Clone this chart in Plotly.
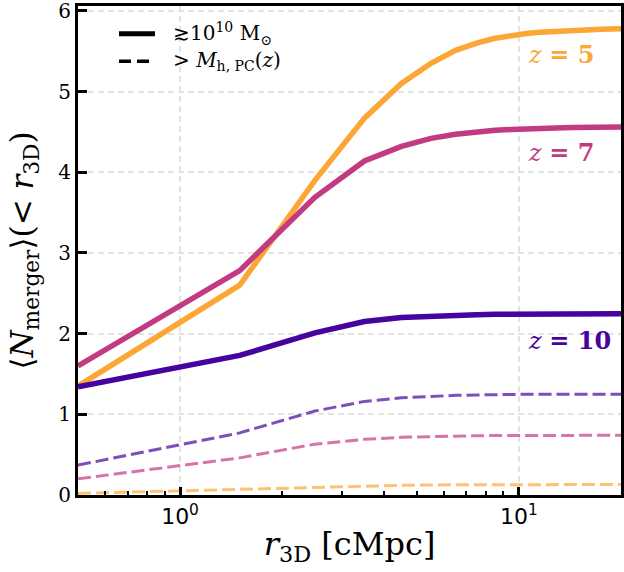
import numpy as np
import plotly.graph_objects as go

r_bins = [0.5, 1.5, 2.5, 3.5, 4.5, 5.5, 6.5, 7.5, 8.5, 9.5, 10.5, 11.5, 12.5,
          13.5, 14.5, 15.5, 16.5, 17.5, 18.5, 19.5, 20.5]

z5_massive = [1.35, 2.60, 3.90, 4.67, 5.10, 5.35, 5.51, 5.60, 5.66, 5.70, 5.72,
              5.735, 5.745, 5.755, 5.76, 5.765, 5.77, 5.772, 5.775, 5.777, 5.78]
z7_massive = [1.60, 2.78, 3.69, 4.14, 4.32, 4.42, 4.47, 4.50, 4.52, 4.53, 4.54,
              4.545, 4.55, 4.55, 4.553, 4.555, 4.556, 4.557, 4.558, 4.559, 4.56]
z10_massive = [1.34, 1.73, 2.01, 2.15, 2.20, 2.22, 2.23, 2.235, 2.24, 2.24, 2.24,
               2.242, 2.243, 2.244, 2.245, 2.245, 2.245, 2.245, 2.245, 2.245, 2.245]

z5_pc = [0.02, 0.07, 0.10, 0.115, 0.12, 0.125, 0.127, 0.128, 0.129, 0.13, 0.13,
         0.13, 0.13, 0.13, 0.13, 0.13, 0.13, 0.13, 0.13, 0.13, 0.13]
z7_pc = [0.20, 0.46, 0.63, 0.69, 0.715, 0.725, 0.73, 0.735, 0.737, 0.738, 0.739,
         0.74, 0.74, 0.74, 0.74, 0.74, 0.74, 0.74, 0.74, 0.74, 0.74]
z10_pc = [0.37, 0.77, 1.04, 1.16, 1.205, 1.225, 1.235, 1.24, 1.245, 1.247, 1.248,
          1.25, 1.25, 1.25, 1.25, 1.25, 1.25, 1.25, 1.25, 1.25, 1.25]

redshifts = ["5", "7", "10"]
colors = ["#FCA636", "#C23B82", "#46039F"]
dash_colors = ["rgba(252,166,54,0.7)", "rgba(194,59,130,0.7)", "rgba(70,3,159,0.7)"]
label_y = [5.46, 4.25, 1.92]

legend_labels = ["≳10<sup>10</sup> M<sub>⊙</sub>",
                 "&gt; <i>M</i><sub>h, PC</sub>(<i>z</i>)"]

x_major = [1, 10]
x_major_text = ["10<sup>0</sup>", "10<sup>1</sup>"]
x_minor = [0.5, 0.6, 0.7, 0.8, 0.9, 2, 3, 4, 5, 6, 7, 8, 9, 20]
y_ticks = [0, 1, 2, 3, 4, 5, 6]

FONT = "DejaVu Serif"

fig = go.Figure()

massive = [z5_massive, z7_massive, z10_massive]
pc = [z5_pc, z7_pc, z10_pc]

for i in range(3):
    fig.add_trace(go.Scatter(x=r_bins, y=pc[i], mode="lines",
                             line=dict(color=dash_colors[i], width=3, dash="13px,5px"),
                             showlegend=False, hoverinfo="skip"))
for i in range(3):
    fig.add_trace(go.Scatter(x=r_bins, y=massive[i], mode="lines",
                             line=dict(color=colors[i], width=5.5),
                             showlegend=False, hoverinfo="skip"))

# legend keys (drawn manually, frameless, like the reference)
legend_y = [0.943, 0.887]
legend_style = [dict(color="black", width=5), dict(color="black", width=3.5, dash="12px,6px")]
for k in range(2):
    fig.add_shape(type="line", xref="paper", yref="paper",
                  x0=0.0755, x1=0.1418, y0=legend_y[k], y1=legend_y[k],
                  line=legend_style[k])
    fig.add_annotation(x=0.172, y=legend_y[k], xref="paper", yref="paper",
                       text=legend_labels[k], showarrow=False,
                       xanchor="left", yanchor="middle",
                       font=dict(family=FONT, size=20, color="black"))

for i in range(3):
    fig.add_annotation(x=np.log10(10.5), y=label_y[i], xref="x", yref="y",
                       text=f"<i>z</i> <b>= {redshifts[i]}</b>",
                       showarrow=False, xanchor="left", yanchor="middle",
                       font=dict(family=FONT, size=24, color=colors[i]))

fig.update_xaxes(type="log", range=[np.log10(0.5), np.log10(20)],
                 tickvals=x_major, ticktext=x_major_text,
                 ticks="inside", ticklen=8, tickwidth=3, tickcolor="black",
                 showline=True, linewidth=3, linecolor="black", mirror=True,
                 showgrid=True, gridcolor="#e3e3e3", gridwidth=1.5, griddash="6px,4px",
                 minor=dict(tickvals=x_minor, ticks="inside", ticklen=4, tickwidth=1.5,
                            tickcolor="black", showgrid=False),
                 tickfont=dict(family="DejaVu Sans", size=22, color="black"),
                 title=dict(text="<i>r</i><sub>3D</sub> [cMpc]",
                            font=dict(family=FONT, size=32, color="black"), standoff=5),
                 zeroline=False, automargin=False, ticklabeloverflow="allow")
fig.update_yaxes(range=[0, 6.06], tickvals=y_ticks,
                 ticks="inside", ticklen=9, tickwidth=3, tickcolor="black",
                 showline=True, linewidth=3, linecolor="black", mirror=True,
                 showgrid=True, gridcolor="#e3e3e3", gridwidth=1.5, griddash="6px,4px",
                 tickfont=dict(family=FONT, size=20, color="black"),
                 title=dict(text="⟨<i>N</i><sub>merger</sub>⟩(&lt; <i>r</i><sub>3D</sub>)",
                            font=dict(family=FONT, size=31, color="black"), standoff=16),
                 zeroline=False, automargin=False, ticklabeloverflow="allow")

fig.update_layout(width=624, height=572,
                  margin=dict(l=78, r=3, t=6, b=77),
                  plot_bgcolor="white", paper_bgcolor="white",
                  showlegend=False)

fig.write_html("out.html", config={"displayModeBar": False},
               post_script="document.body.style.margin='0';document.body.style.overflow='hidden';")
